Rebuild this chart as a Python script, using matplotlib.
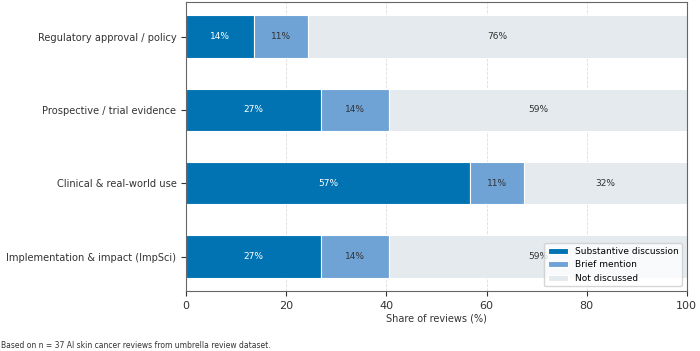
import matplotlib.pyplot as plt
import numpy as np

# Review coverage data (n = 37 reviews)
n_reviews = 37
categories = [
    "Regulatory approval / policy",
    "Prospective / trial evidence",
    "Clinical & real-world use",
    "Implementation & impact (ImpSci)",
]
substantive = [5, 10, 21, 10]
brief = [4, 5, 4, 5]
not_discussed = [28, 22, 12, 22]

series = [
    ("Substantive discussion", substantive, "#0173b2", "white"),
    ("Brief mention", brief, "#6fa3d5", "#333333"),
    ("Not discussed", not_discussed, "#e4eaed", "#333333"),
]

fig, ax = plt.subplots(figsize=(7.0, 3.51), dpi=100)
fig.subplots_adjust(left=0.266, right=0.981, bottom=0.171, top=0.994)

y = np.arange(len(categories))
left = np.zeros(len(categories))
for name, counts, color, txt_color in series:
    pct = np.array(counts) / n_reviews * 100
    bars = ax.barh(y, pct, left=left, height=0.58, color=color,
                   edgecolor="white", linewidth=0.8, label=name, zorder=2)
    for b, p in zip(bars, pct):
        ax.text(b.get_x() + b.get_width() / 2, b.get_y() + b.get_height() / 2,
                f"{p:.0f}%", ha="center", va="center", fontsize=6.5,
                color=txt_color, zorder=3)
    left += pct

ax.set_yticks(y)
ax.set_yticklabels(categories, fontsize=7.1, color="#333333")
ax.invert_yaxis()
ax.set_xlim(0, 100)
ax.set_xticks([0, 20, 40, 60, 80, 100])
ax.tick_params(axis="x", labelsize=8, colors="#333333")
ax.tick_params(axis="y", colors="#333333")
ax.set_xlabel("Share of reviews (%)", fontsize=7, color="#333333", labelpad=2)
ax.grid(axis="x", linestyle="--", color="#dddddd", linewidth=0.6, zorder=0)
ax.set_axisbelow(True)
for s in ax.spines.values():
    s.set_color("#666666")

ax.legend(loc="lower right", fontsize=6.5, frameon=True, framealpha=0.8,
          edgecolor="#cccccc", handlelength=2.2)

fig.text(0.002, 0.002, "Based on n = 37 AI skin cancer reviews from umbrella review dataset.",
         fontsize=5.5, color="#333333", ha="left", va="bottom")

fig.savefig("out.png", dpi=100)
